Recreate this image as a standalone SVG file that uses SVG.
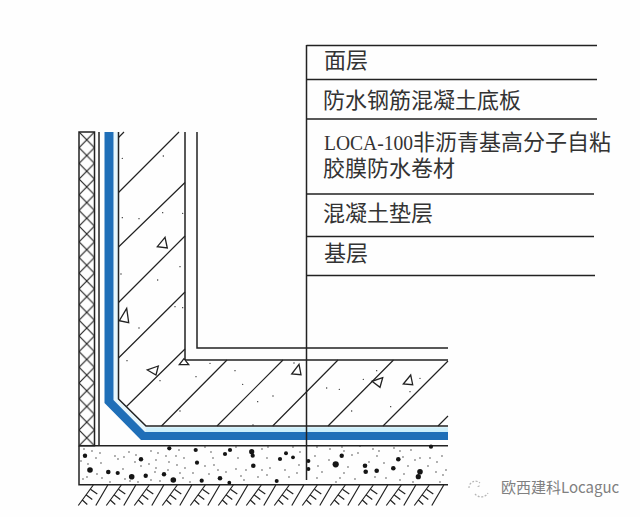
<svg xmlns="http://www.w3.org/2000/svg" width="640" height="517" viewBox="0 0 640 517">
<style>
.ln{fill:none;stroke:#222;stroke-width:1.5}
.h{fill:none;stroke:#222;stroke-width:1.2}
.tri{fill:#fff;stroke:#222;stroke-width:1.3}
.sm{fill:none;stroke:#222;stroke-width:1.3;stroke-linecap:round}
.big{fill:#151515}
text{font-family:"Noto Sans CJK SC","Noto Sans",sans-serif;font-size:22px;fill:#333}
.lat{font-family:"Liberation Serif",serif;font-size:21px}
.wm{font-size:15px;fill:#808080}
</style>
<defs>
<pattern id="xh" patternUnits="userSpaceOnUse" x="79" y="132" width="15.5" height="15.685">
<path d="M0 0L15.5 15.685M15.5 0L0 15.685" class="h"/>
</pattern>
<g id="soil" class="h">
<path d="M0 20.5L15 0M17.5 20.5L29.5 0M4 15L9 19.5M8 10L14 14.5M12.5 4.5L19 9"/>
</g>
</defs>
<rect width="640" height="517" fill="#fefefe"/>

<g id="insulation">
<rect x="79" y="132" width="15.5" height="313.7" fill="url(#xh)" stroke="#222" stroke-width="1.5"/>
</g>

<g id="membrane">
<polygon points="113.5,132 118,132 118,398 146.5,427 448,427 448,432 145,432 113.5,400" fill="#e6f6fc"/>
<polygon points="146.5,427.5 448,427.5 448,432 145,432" fill="#cdeffb"/>
<polygon points="104.5,132 113.5,132 113.5,400 145,432 448,432 448,440 141,440 104.5,403" fill="#1f6fb8"/>
</g>

<g id="slab-hatch" class="h">
<path d="M118.5 137.5L124 132M118.5 192.5L179 132M118.5 247L185 182.5M118.5 302.5L161 260L185 236M118.5 358L185 292M126.5 406.5L185 349M161.5 426L227 360M217 426L283 360M272.7 426L338 360M328 426L393.5 360M383 426L448 361M438 426L448 416"/>
</g>

<g id="structure-lines" class="ln">
<path d="M99 132V445.7"/>
<path d="M118.5 132V399L146 426H448"/>
<path d="M185 132V360H448"/>
<path d="M197 132V348H448"/>
<path d="M79 445.7H448"/>
<path d="M79 445.7V484.8H448"/>
</g>

<g id="triangles" class="tri">
<polygon points="165,237.3 157.3,246.7 167.3,248"/>
<polygon points="126.7,308.3 119.3,320.7 128.7,322.7"/>
<polygon points="158.3,366 147.3,370 156,375"/>
<polygon points="184,358.7 179.3,364.7 188.7,364.7"/>
<polygon points="299,364.3 291.7,374 301,374.7"/>
<polygon points="382.7,377.7 372,381.3 380,387.3"/>
<polygon points="410.7,375 403.3,384 412.7,384.7"/>
</g>

<g id="slab-dots" class="sm">
<path d="M122.3 158.3h0M163.3 156h0M122.3 217.7h0M139 218.7h0M162.7 212.7h0M182.7 213.3h0M180 266.7h0M121 274h0M157.7 280h0M175 306.7h0M182.7 307.7h0M139 328h0M127 360.7h0M160 380.7h0M196 376.7h0M210 363.3h0M235 370.7h0M242.7 384.3h0M257.7 401.7h0M180 411h0M253 425h0M273 396h0M294 363h0M326.7 388h0M339.3 389.3h0M351.7 411h0M363.3 379.3h0M376.7 370.7h0M390.7 406.7h0M420 378.3h0M410 391.7h0"/>
</g>

<g id="concrete-speckle">
<g class="big">
<circle cx="85" cy="455.7" r="2.2"/><circle cx="90" cy="470" r="2.8"/><circle cx="108.3" cy="472" r="2.3"/><circle cx="117.7" cy="473" r="2.1"/><circle cx="131.7" cy="476.7" r="2.8"/><circle cx="141" cy="459.3" r="2.2"/><circle cx="145.7" cy="475.7" r="2.2"/><circle cx="164" cy="474.3" r="2.2"/><circle cx="173.3" cy="480" r="2.8"/><circle cx="169.3" cy="448.3" r="2.1"/><circle cx="195.7" cy="450" r="2.1"/><circle cx="197" cy="462.7" r="2.1"/><circle cx="230" cy="450" r="2.1"/><circle cx="225" cy="454" r="2.1"/><circle cx="251.7" cy="451.7" r="2.6"/><circle cx="252.7" cy="455.7" r="2.1"/><circle cx="253.3" cy="465.7" r="2.3"/><circle cx="286" cy="453.3" r="2"/><circle cx="280" cy="459" r="2.1"/><circle cx="293" cy="457.3" r="1.9"/><circle cx="308.3" cy="461" r="2.1"/><circle cx="308.3" cy="469" r="2.1"/><circle cx="220" cy="478.3" r="2.3"/><circle cx="201.7" cy="480.7" r="2.1"/><circle cx="276.7" cy="481" r="2"/><circle cx="229.3" cy="482.7" r="1.9"/><circle cx="341.7" cy="455.7" r="2.2"/><circle cx="335.7" cy="464.3" r="3.1"/><circle cx="365" cy="465.7" r="2.3"/><circle cx="365.7" cy="471.7" r="2.3"/><circle cx="376.7" cy="470.7" r="2.3"/><circle cx="393.3" cy="468.3" r="2.3"/><circle cx="398.3" cy="459.3" r="2.3"/><circle cx="420" cy="471.7" r="2.8"/><circle cx="418.3" cy="476.7" r="2.6"/><circle cx="431" cy="446.7" r="2.1"/>
</g>
<path class="sm" d="M84 449h0M92 451h0M100 453h0M96 458h0M81 461h0M101 463h0M88 464h0M115 456h0M118 459h0M124 457h0M129 452h0M136 455h0M135 462h0M141 466h0M149 464h0M151 451h0M158 453h0M156 460h0M156 468h0M166 456h0M169 462h0M176 456h0M179 450h0M177 465h0M184 458h0M185 468h0M180 473h0M87 477h0M83 479h0M97 474h0M102 478h0M110 482h0M123 469h0M125 479h0M130 481h0M138 482h0M151 480h0M155 472h0M160 481h0M168 470h0M183 478h0M190 482h0M193 473h0M205 447h0M211 452h0M213 458h0M205 466h0M214 465h0M218 470h0M209 474h0M226 472h0M236 447h0M238 458h0M236 469h0M241 476h0M246 470h0M244 480h0M262 449h0M268 447h0M267 458h0M262 470h0M258 477h0M267 475h0M270 468h0M285 470h0M289 477h0M297 473h0M299 465h0M293 447h0M300 452h0M317 447h0M315 456h0M318 466h0M322 472h0M317 478h0M330 449h0M329 460h0M342 447h0M344 451h0M348 467h0M352 455h0M358 453h0M360 446h0M344 473h0M340 478h0M336 482h0M355 479h0M373 449h0M377 456h0M379 451h0M384 463h0M369 462h0M386 478h0M375 477h0M394 448h0M400 451h0M403 457h0M404 474h0M411 450h0M415 460h0M420 458h0M413 482h0M430 458h0M437 462h0M442 456h0M436 472h0M443 475h0M428 466h0M440 482h0M408 466h0M400 480h0M446 470h0"/>
</g>

<g id="soil-hatch">
<use href="#soil" x="78.3" y="485"/><use href="#soil" x="106.3" y="485"/><use href="#soil" x="134.3" y="485"/><use href="#soil" x="162.3" y="485"/><use href="#soil" x="190.3" y="485"/><use href="#soil" x="218.3" y="485"/><use href="#soil" x="246.3" y="485"/><use href="#soil" x="274.3" y="485"/><use href="#soil" x="302.3" y="485"/><use href="#soil" x="330.3" y="485"/><use href="#soil" x="358.3" y="485"/><use href="#soil" x="386.3" y="485"/><use href="#soil" x="414.3" y="485"/>
</g>

<g id="connectors" class="ln">
<path d="M306.5 45V480"/>
<path d="M306.5 45.5H597M306.5 79.5H597M306.5 119H597M306.5 194H594M306.5 236.5H594M306.5 275.5H595"/>
</g>

<g id="labels">
<text x="324" y="68">面层</text>
<text x="323" y="108">防水钢筋混凝土底板</text>
<text x="324" y="149.5"><tspan class="lat" textLength="89" lengthAdjust="spacingAndGlyphs">LOCA-100</tspan>非沥青基高分子自粘</text>
<text x="323" y="176">胶膜防水卷材</text>
<text x="323" y="221">混凝土垫层</text>
<text x="324" y="261">基层</text>
</g>

<g id="watermark">
<path d="M469 488a6.5 6.5 0 0 1 11-5M475 494a8 8 0 0 0 13-1M478 487a1 1 0 0 1 2 0" fill="none" stroke="#b5b5b5" stroke-width="1.2" stroke-dasharray="2 1.5"/>
<text class="wm" x="501" y="493">欧西建科Locaguc</text>
</g>
</svg>
